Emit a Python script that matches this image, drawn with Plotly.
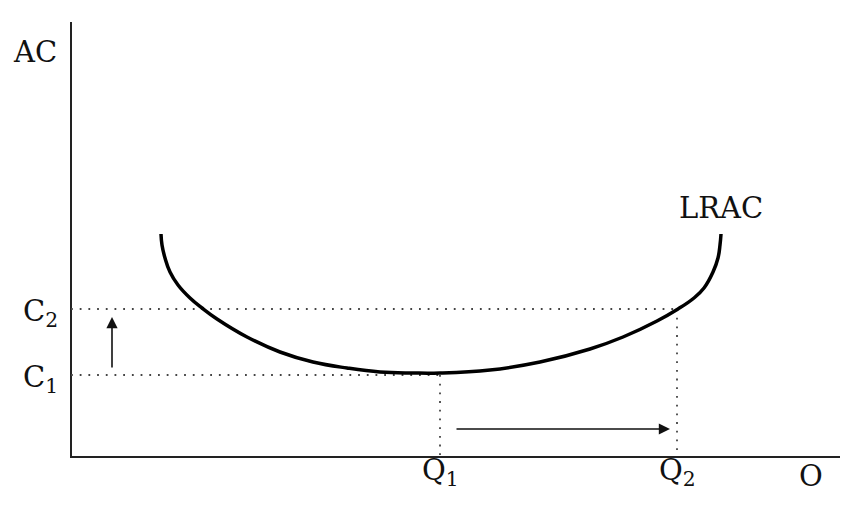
import plotly.graph_objects as go

# LRAC curve points (output, average cost)
lrac_q = [90, 91, 94, 99, 107, 119, 131, 146, 176, 209, 242, 276, 309, 342, 369,
          419, 469, 519, 552, 586, 607, 623, 633, 642, 647, 649, 650]
lrac_c = [223, 212, 199, 185, 172, 159, 149, 138, 120, 105, 95, 89, 85, 84, 84,
          87, 95, 108, 120, 136, 148, 159, 169, 185, 199, 212, 223]

# reference levels
C1 = 82
C2 = 148
Q1 = 369
Q2 = 606
AX_X_MAX = 769
AX_Y_MAX = 435

FONT = "DejaVu Serif"
INK = "#111111"

fig = go.Figure()

# axes
fig.add_trace(go.Scatter(x=[0, 0, AX_X_MAX], y=[AX_Y_MAX, 0, 0], mode="lines",
                         line=dict(color="#222222", width=2), hoverinfo="skip"))

# dotted guides
dot = dict(color="#444444", width=1.8, dash="1.8px,6.9px")
fig.add_trace(go.Scatter(x=[0, Q2], y=[C2, C2], mode="lines", line=dot, hoverinfo="skip"))
fig.add_trace(go.Scatter(x=[0, Q1], y=[C1, C1], mode="lines", line=dot, hoverinfo="skip"))
fig.add_trace(go.Scatter(x=[Q1, Q1], y=[C1, 0], mode="lines", line=dot, hoverinfo="skip"))
fig.add_trace(go.Scatter(x=[Q2, Q2], y=[C2, 0], mode="lines", line=dot, hoverinfo="skip"))

# LRAC curve
fig.add_trace(go.Scatter(x=lrac_q, y=lrac_c, mode="lines",
                         line=dict(color="#000000", width=3.5, shape="spline", smoothing=1.2),
                         hoverinfo="skip"))

# arrows
fig.add_annotation(x=41, y=140, ax=41, ay=88, xref="x", yref="y", axref="x", ayref="y",
                   showarrow=True, arrowhead=2, arrowsize=1.4, arrowwidth=1.6, arrowcolor=INK, text="")
fig.add_annotation(x=599, y=28, ax=384, ay=28, xref="x", yref="y", axref="x", ayref="y",
                   showarrow=True, arrowhead=2, arrowsize=1.4, arrowwidth=1.6, arrowcolor=INK, text="")

def label(x, y, text, xanchor="center", yanchor="middle"):
    fig.add_annotation(x=x, y=y, xref="x", yref="y", text=text, showarrow=False,
                       xanchor=xanchor, yanchor=yanchor,
                       font=dict(family=FONT, size=29, color=INK))

label(-36, 405, "AC")
label(-11, 144, "C<sub>2</sub>", xanchor="right")
label(-11, 78, "C<sub>1</sub>", xanchor="right")
label(Q1, -15, "Q<sub>1</sub>")
label(Q2, -15, "Q<sub>2</sub>")
label(740, -19, "O")
label(650, 249, "LRAC")

# the page body adds an 8px offset; ranges are shifted so the drawing lands in place
fig.update_layout(
    width=854, height=512,
    margin=dict(l=0, r=0, t=0, b=0),
    paper_bgcolor="white", plot_bgcolor="white",
    showlegend=False,
    xaxis=dict(range=[-63, 791], visible=False, fixedrange=True),
    yaxis=dict(range=[-63, 449], visible=False, fixedrange=True),
)

fig.write_html("out.html")
